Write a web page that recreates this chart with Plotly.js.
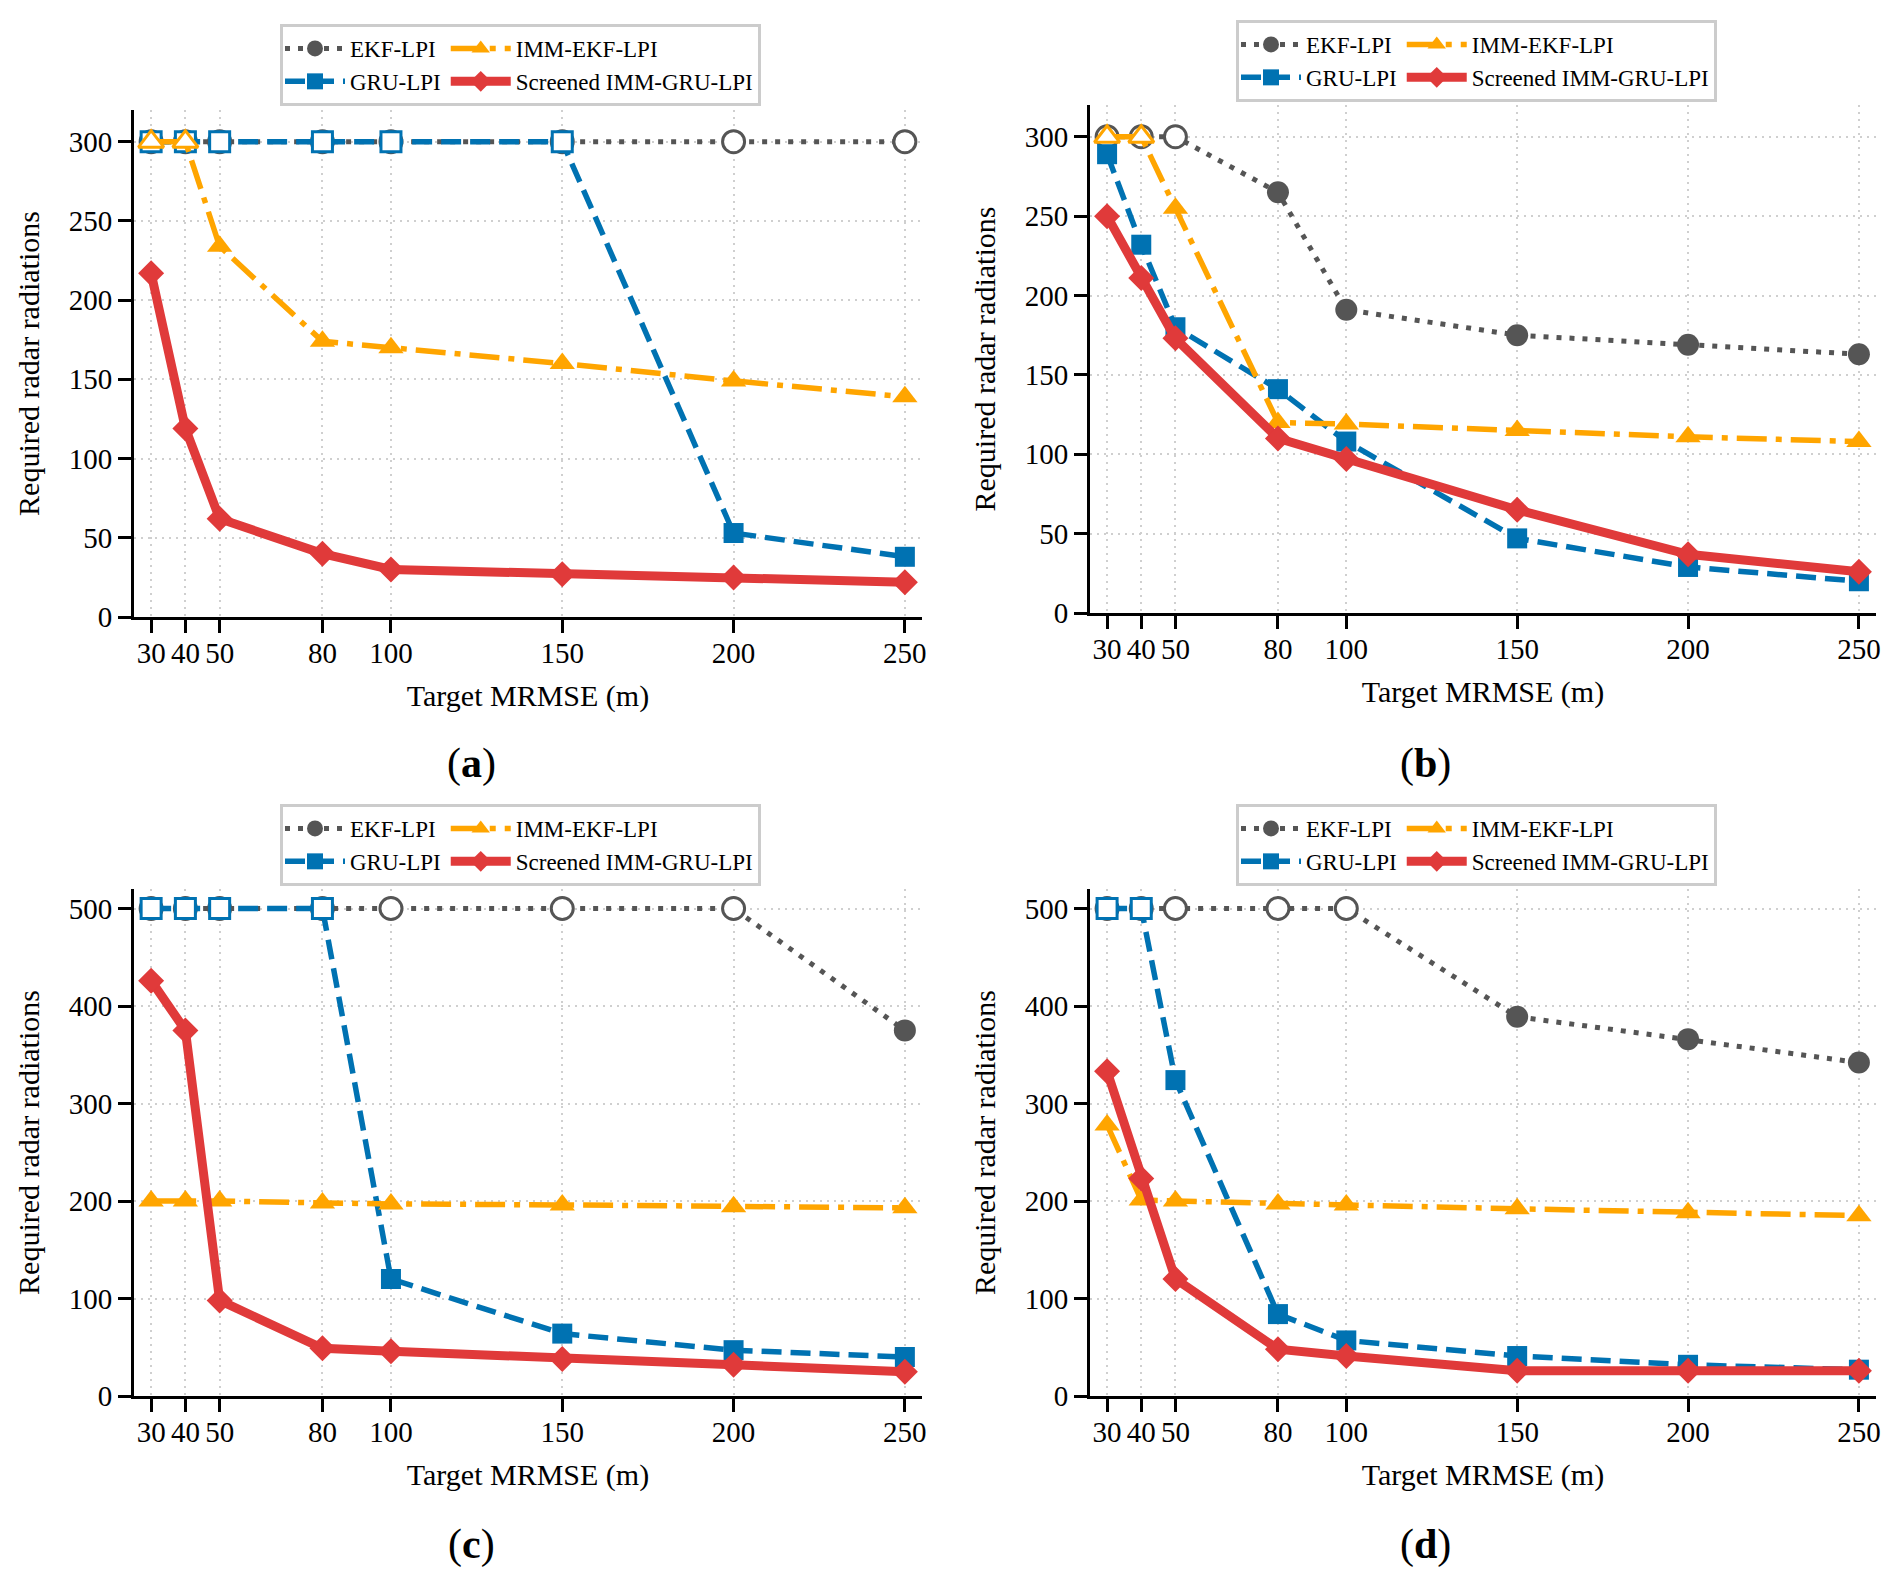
<!DOCTYPE html>
<html>
<head>
<meta charset="utf-8">
<script src="https://cdn.plot.ly/plotly-3.0.1.min.js"></script>
<style>
  html, body { margin: 0; padding: 0; background: #fff; }
  #plot { width: 1893px; height: 1578px; }
</style>
</head>
<body>
<div id="plot"></div>
<script>
"use strict";

// target MRMSE values shared by all four panels
const mrmse = [30, 40, 50, 80, 100, 150, 200, 250];

// (a)
const ekfA = [300, 300, 300, 300, 300, 300, 300, 300];
const gruA = [300, 300, 300, 300, 300, 300, 53, 38];
const immA = [300, 300, 234, 174, 170, 160, 149, 139];
const scrA = [217, 119, 62, 40, 30, 27, 25, 22];

// (b)
const ekfB = [300, 300, 300, 265, 191, 175, 169, 163];
const gruB = [289, 232, 180, 141, 108, 47, 29, 20];
const immB = [300, 300, 255, 120, 119, 115, 111, 108];
const scrB = [250, 211, 173, 110, 97, 65, 37, 26];

// (c)
const ekfC = [500, 500, 500, 500, 500, 500, 500, 375];
const gruC = [500, 500, 500, 500, 120, 64, 47, 40];
const immC = [200, 200, 200, 198, 197, 196, 194, 193];
const scrC = [426, 375, 98, 49, 46, 38, 32, 25];

// (d)
const ekfD = [500, 500, 500, 500, 500, 389, 366, 342];
const gruD = [500, 500, 324, 84, 57, 41, 32, 27];
const immD = [278, 201, 200, 197, 196, 192, 188, 185];
const scrD = [333, 223, 120, 48, 41, 26, 26, 26];

// radiation budget (points at the cap are drawn hollow)
const caps = [300, 300, 500, 500];
const yTicksSmall = [0, 50, 100, 150, 200, 250, 300];
const yTicksLarge = [0, 100, 200, 300, 400, 500];

const W = 1893;
const H = 1578;
const FONT = "Liberation Serif, Times New Roman, serif";

const styles = [
  { name: "EKF-LPI", color: "#555555", dash: "5px,8px", width: 5, symbol: "circle", size: 22, col: 1 },
  { name: "GRU-LPI", color: "#0072B2", dash: "20px,9px", width: 5.5, symbol: "square", size: 20, col: 1 },
  { name: "IMM-EKF-LPI", color: "#FFA500", dash: "30px,9px,6px,9px", width: 5.5, symbol: "triangle-up", size: 22, col: 2 },
  { name: "Screened IMM-GRU-LPI", color: "#E03A3A", dash: "solid", width: 9, symbol: "diamond", size: 20, col: 2 },
];

const panels = [
  { label: "a", values: [ekfA, gruA, immA, scrA], cap: caps[0], yTicks: yTicksSmall, yMax: 320,
    box: [134, 110, 922, 617], legendAt: [280, 24], labelAt: [471, 763] },
  { label: "b", values: [ekfB, gruB, immB, scrB], cap: caps[1], yTicks: yTicksSmall, yMax: 320,
    box: [1090, 105, 1876, 613], legendAt: [1236, 20], labelAt: [1425, 763] },
  { label: "c", values: [ekfC, gruC, immC, scrC], cap: caps[2], yTicks: yTicksLarge, yMax: 520,
    box: [134, 889, 922, 1396], legendAt: [280, 804], labelAt: [471, 1544] },
  { label: "d", values: [ekfD, gruD, immD, scrD], cap: caps[3], yTicks: yTicksLarge, yMax: 520,
    box: [1090, 889, 1876, 1396], legendAt: [1236, 804], labelAt: [1425, 1544] },
];

const px = (x) => x / W;
const py = (y) => 1 - y / H;

const data = [];
const layout = {
  width: W,
  height: H,
  margin: { l: 0, r: 0, t: 0, b: 0 },
  paper_bgcolor: "#ffffff",
  plot_bgcolor: "#ffffff",
  font: { family: FONT, color: "#000000" },
  annotations: [],
};

panels.forEach((p, k) => {
  const n = k === 0 ? "" : String(k + 1);
  const xa = "x" + n;
  const ya = "y" + n;
  const legendName = "legend" + n;

  p.values.forEach((vals, s) => {
    const st = styles[s];
    data.push({
      x: mrmse,
      y: vals,
      xaxis: xa,
      yaxis: ya,
      type: "scatter",
      mode: "lines+markers",
      name: st.name,
      legend: legendName,
      legendgroup: p.label + st.col,
      line: { color: st.color, width: st.width, dash: st.dash },
      marker: { symbol: st.symbol, size: st.size, color: st.color },
      hoverinfo: "x+y+name",
    });

    // hollow markers where the radiation cap was hit
    const capX = mrmse.filter((_, i) => vals[i] === p.cap);
    const capY = vals.filter((v) => v === p.cap);
    if (capX.length) {
      data.push({
        x: capX,
        y: capY,
        xaxis: xa,
        yaxis: ya,
        type: "scatter",
        mode: "markers",
        showlegend: false,
        legend: legendName,
        marker: {
          symbol: st.symbol,
          size: st.size,
          color: "#ffffff",
          line: { color: st.color, width: 3 },
        },
        hoverinfo: "skip",
      });
    }
  });

  const common = {
    showline: true,
    linecolor: "#000000",
    linewidth: 2.7,
    mirror: false,
    ticks: "outside",
    ticklen: 13,
    tickwidth: 2.5,
    tickcolor: "#000000",
    showgrid: true,
    gridcolor: "#cfcfcf",
    gridwidth: 2,
    griddash: "2px,5px",
    zeroline: false,
    automargin: false,
    tickfont: { family: FONT, size: 29, color: "#000000" },
  };

  layout["xaxis" + n] = Object.assign({}, common, {
    domain: [px(p.box[0]), px(p.box[2])],
    anchor: ya,
    range: [25, 255],
    tickmode: "array",
    tickvals: mrmse,
    ticktext: mrmse.map(String),
    ticklabelstandoff: -5,
    title: { text: "Target MRMSE (m)", font: { family: FONT, size: 30 }, standoff: 18 },
  });

  layout["yaxis" + n] = Object.assign({}, common, {
    domain: [py(p.box[3]), py(p.box[1])],
    anchor: xa,
    range: [0, p.yMax],
    tickmode: "array",
    tickvals: p.yTicks,
    title: { text: "Required radar radiations", font: { family: FONT, size: 30 }, standoff: 21 },
  });

  layout[legendName] = {
    x: px(p.legendAt[0]),
    y: py(p.legendAt[1]),
    xanchor: "left",
    yanchor: "top",
    orientation: "h",
    bordercolor: "#cccccc",
    borderwidth: 3,
    bgcolor: "#ffffff",
    itemwidth: 60,
    tracegroupgap: 0,
    valign: "middle",
    font: { family: FONT, size: 23, color: "#000000" },
  };

  layout.annotations.push({
    xref: "paper",
    yref: "paper",
    x: px(p.labelAt[0]),
    y: py(p.labelAt[1]),
    xanchor: "center",
    yanchor: "middle",
    showarrow: false,
    text: "(<b>" + p.label + "</b>)",
    font: { family: FONT, size: 42, color: "#000000" },
  });
});

Plotly.newPlot("plot", data, layout, { displayModeBar: false, responsive: false });
</script>
</body>
</html>
